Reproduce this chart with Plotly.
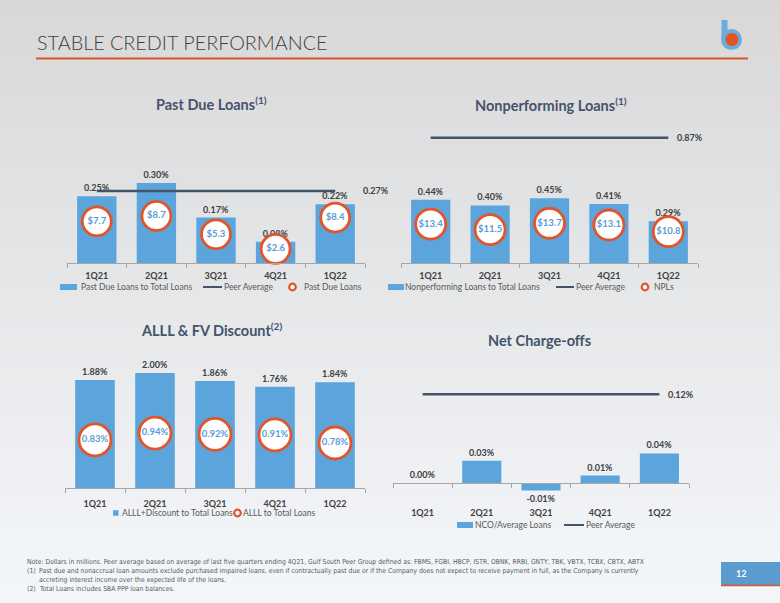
import plotly.graph_objects as go

# ---------------- data ----------------
quarters = ["1Q21", "2Q21", "3Q21", "4Q21", "1Q22"]

past_due_pct = [0.25, 0.30, 0.17, 0.08, 0.22]
past_due_peer = 0.27
past_due_amt = [7.7, 8.7, 5.3, 2.6, 8.4]

npl_pct = [0.44, 0.40, 0.45, 0.41, 0.29]
npl_peer = 0.87
npl_amt = [13.4, 11.5, 13.7, 13.1, 10.8]

alll_fv_pct = [1.88, 2.00, 1.86, 1.76, 1.84]
alll_pct = [0.83, 0.94, 0.92, 0.91, 0.78]

nco_pct = [0.00, 0.03, -0.01, 0.01, 0.04]
nco_peer = 0.12

# ---------------- styles ----------------
W, H = 780, 603
BAR = "#5BA5DC"
ORANGE = "#E2542A"
PEER = "#44546A"
TXT = "#404040"
CIRC_TXT = "#5B9BD5"
FONT = "Lato"


def fx(p):
    return p / W


def fy(p):
    return 1 - p / H


fig = go.Figure()

lab_font = dict(family=FONT, size=9, color=TXT, weight="bold")
circ_font = dict(family=FONT, size=9.5, color=CIRC_TXT, weight="bold")
ann = []


def add_panel(xa, ya, ya2, bars, peer=None, peer_shift=7, circles=None,
              circ_fmt=None, circ_size=29):
    fig.add_trace(go.Bar(
        x=quarters, y=bars, xaxis=xa, yaxis=ya,
        marker=dict(color=BAR, line=dict(width=0)),
        texttemplate="%{y:.2f}%", textposition="outside",
        textfont=lab_font, cliponaxis=False, constraintext="none",
        hoverinfo="skip"))
    if peer is not None:
        fig.add_trace(go.Scatter(
            x=quarters, y=[peer] * len(quarters),
            xaxis=xa, yaxis=ya, mode="lines",
            line=dict(color=PEER, width=2.5), hoverinfo="skip"))
        ann.append(dict(text=f"{peer:.2f}%", xref=xa, yref=ya,
                        x=quarters[-1], y=peer, xanchor="left",
                        yanchor="middle", xshift=peer_shift,
                        showarrow=False, font=lab_font))
    if circles is not None:
        fig.add_trace(go.Scatter(
            x=quarters, y=circles, xaxis=xa, yaxis=ya2, mode="markers+text",
            marker=dict(size=circ_size, color="white",
                        line=dict(color=ORANGE, width=2.8)),
            text=[circ_fmt.format(v) for v in circles],
            textposition="middle center", textfont=circ_font,
            cliponaxis=False, hoverinfo="skip"))


add_panel("x", "y", "y2", past_due_pct, past_due_peer, 26, past_due_amt,
          "${:.1f}")
add_panel("x2", "y3", "y4", npl_pct, npl_peer, 7, npl_amt, "${:.1f}",
          30)
add_panel("x3", "y5", "y6", alll_fv_pct, None, 0, alll_pct, "{:.2f}%", 32)
add_panel("x4", "y7", None, nco_pct, nco_peer, 7)

xcommon = dict(type="category", categoryorder="array", categoryarray=quarters,
               showline=True, linecolor="#A6A6A6", linewidth=1,
               ticks="outside", tickson="boundaries", ticklen=4,
               tickcolor="#A6A6A6", tickfont=lab_font, showgrid=False,
               zeroline=False, fixedrange=True, range=[-0.5, 4.5])
ycommon = dict(visible=False, showgrid=False, zeroline=False, fixedrange=True)

fig.update_layout(
    width=W, height=H, margin=dict(l=0, r=0, t=0, b=0),
    paper_bgcolor="#E6E7E9", plot_bgcolor="rgba(0,0,0,0)",
    bargap=0.34, showlegend=False,
    xaxis=dict(xcommon, domain=[fx(67), fx(365)], anchor="y",
               ticklabelstandoff=4),
    yaxis=dict(ycommon, domain=[fy(263), fy(120)], range=[0, 143 / 267], anchor="x"),
    yaxis2=dict(ycommon, overlaying="y", range=[0, 143 / 5.41], anchor="x"),
    xaxis2=dict(xcommon, domain=[fx(401), fx(698)], anchor="y3",
                ticklabelstandoff=4),
    yaxis3=dict(ycommon, domain=[fy(263), fy(120)], range=[0, 143 / 144], anchor="x2"),
    yaxis4=dict(ycommon, overlaying="y3", range=[0, 143 / 2.9], anchor="x2"),
    xaxis3=dict(xcommon, domain=[fx(65), fx(365)], anchor="y5",
                ticklabelstandoff=7),
    yaxis5=dict(ycommon, domain=[fy(488), fy(360)], range=[0, 128 / 57.5], anchor="x3"),
    yaxis6=dict(ycommon, overlaying="y5", range=[0.054, 0.054 + 128 / 62], anchor="x3"),
    xaxis4=dict(xcommon, domain=[fx(393), fx(689)], anchor="free",
                position=fy(483), ticklabelstandoff=21),
    yaxis7=dict(ycommon, domain=[fy(503), fy(370)],
                range=[-20 / 740, 113 / 740], anchor="x4"),
)

# ---------------- background gradient ----------------
shapes = []
top_c = (216, 216, 217)
mid_c = (230, 231, 233)
bot_c = (244, 247, 250)
n = 61
for i in range(n):
    y0 = i * H / n
    y1 = (i + 1) * H / n
    t = (y0 + y1) / 2 / H
    if t < 0.5:
        a, b, u = top_c, mid_c, t / 0.5
    else:
        a, b, u = mid_c, bot_c, (t - 0.5) / 0.5
    c = tuple(round(a[k] + (b[k] - a[k]) * u) for k in range(3))
    shapes.append(dict(type="rect", xref="paper", yref="paper",
                       x0=0, x1=1, y0=fy(y1 + 0.5), y1=fy(y0),
                       fillcolor=f"rgb{c}", line=dict(width=0), layer="below"))


def pshape(**kw):
    d = dict(xref="paper", yref="paper")
    d.update(kw)
    shapes.append(d)


# title rule
pshape(type="line", x0=fx(36), x1=fx(748), y0=fy(58.5), y1=fy(58.5),
       line=dict(color="#D9552B", width=2))
# logo
pshape(type="line", x0=fx(724.5), x1=fx(724.5), y0=fy(38), y1=fy(20),
       line=dict(color="#6FAADC", width=6))
pshape(type="circle", x0=fx(721), x1=fx(742), y0=fy(50), y1=fy(29),
       fillcolor="#6FAADC", line=dict(width=0))
pshape(type="circle", x0=fx(725.5), x1=fx(738.5), y0=fy(46), y1=fy(33),
       fillcolor="#E35425", line=dict(width=0))
# page number box
pshape(type="rect", x0=fx(721), x1=1, y0=fy(585), y1=fy(562),
       fillcolor="#5A9BD0", line=dict(width=0))
pshape(type="line", x0=fx(721), x1=1, y0=fy(585.5), y1=fy(585.5),
       line=dict(color="#D9552B", width=1.5))

# ---------------- legends (keys + labels) ----------------
leg_font = dict(family=FONT, size=8.5, color="#595959")


def pann(text, x, y, font, xanchor="left", **kw):
    d = dict(text=text, xref="paper", yref="paper", x=fx(x), y=fy(y),
             xanchor=xanchor, yanchor="middle", showarrow=False, font=font)
    d.update(kw)
    ann.append(d)


def key_square(x0, x1, yc, h=6):
    pshape(type="rect", x0=fx(x0), x1=fx(x1), y0=fy(yc + h / 2),
           y1=fy(yc - h / 2), fillcolor=BAR, line=dict(width=0))


def key_line(x0, x1, yc):
    pshape(type="line", x0=fx(x0), x1=fx(x1), y0=fy(yc), y1=fy(yc),
           line=dict(color=PEER, width=2))


def key_circle(xc, yc, r=3.3):
    pshape(type="circle", x0=fx(xc - r), x1=fx(xc + r), y0=fy(yc + r),
           y1=fy(yc - r), fillcolor="white", line=dict(color=ORANGE, width=2.2))


# panel 1 legend
key_square(60, 77, 287)
pann("Past Due Loans to Total Loans", 79, 287, leg_font)
key_line(203, 222, 287)
pann("Peer Average", 222, 287, leg_font)
key_circle(292.5, 287)
pann("Past Due Loans", 302, 287, leg_font)
# panel 2 legend
key_square(388, 404, 287)
pann("Nonperforming Loans to Total Loans", 403, 287, leg_font)
key_line(556, 574, 287)
pann("Peer Average", 574, 287, leg_font)
key_circle(645, 287)
pann("NPLs", 652, 287, leg_font)
# panel 3 legend
key_square(113, 118.5, 513, 5.5)
pann("ALLL+Discount to Total Loans", 120, 513, leg_font)
key_circle(237.5, 513)
pann("ALLL to Total Loans", 241, 513, leg_font)
# panel 4 legend
key_square(457, 473, 525)
pann("NCO/Average Loans", 473, 525, leg_font)
key_line(564, 584, 525)
pann("Peer Average", 584, 525, leg_font)

fig.update_layout(shapes=shapes)

# ---------------- texts ----------------
pann("STABLE CREDIT PERFORMANCE", 35, 42,
     dict(family=FONT, size=19.8, color="#3F3F3F", weight=300))
ttl_font = dict(family=FONT, size=14.5, color="#44546A", weight="bold")
for txt, cx, cy in [("Past Due Loans<sup>(1)</sup>", 211, 103),
                    ("Nonperforming Loans<sup>(1)</sup>", 551, 104),
                    ("ALLL &amp; FV Discount<sup>(2)</sup>", 211, 329),
                    ("Net Charge-offs", 539, 340)]:
    pann(txt, cx, cy, ttl_font, xanchor="center")

note_font = dict(family="DejaVu Sans Condensed", size=6.8, color="#595959")
notes = [
    (25, 562, "Note: Dollars in millions. Peer average based on average of last five quarters ending 4Q21, Gulf South Peer Group defined as: FBMS, FGBI, HBCP, ISTR, OBNK, RRBI, GNTY, TBK, VBTX, TCBX, CBTX, ABTX"),
    (25, 571, "(1)"),
    (37, 571, "Past due and nonaccrual loan amounts exclude purchased impaired loans, even if contractually past due or if the Company does not expect to receive payment in full, as the Company is currently"),
    (37, 580, "accreting interest income over the expected life of the loans."),
    (25, 589, "(2)"),
    (37, 589, "Total Loans includes SBA PPP loan balances."),
]
for x0, y0, t in notes:
    pann(t, x0, y0, note_font)
pann("12", 741, 573.5, dict(family=FONT, size=9, color="white", weight="bold"),
     xanchor="center")
fig.update_layout(annotations=ann)

fig.write_html("out.html")
